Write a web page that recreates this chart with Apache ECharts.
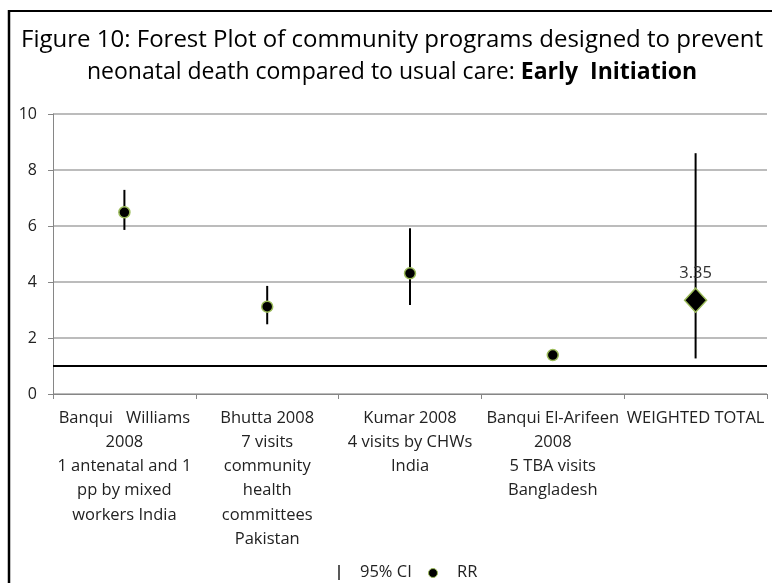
<!DOCTYPE html>
<html>
<head>
<meta charset="utf-8">
<script src="https://cdn.jsdelivr.net/npm/echarts@6/dist/echarts.min.js"></script>
<style>html,body{margin:0;padding:0;background:#fff;}#c{width:772px;height:583px;}</style>
</head>
<body>
<div id="c"></div>
<script>
var categories = [
  'Banqui   Williams\n2008\n1 antenatal and 1\npp by mixed\nworkers India',
  'Bhutta 2008\n7 visits\ncommunity\nhealth\ncommittees\nPakistan',
  'Kumar 2008\n4 visits by CHWs\nIndia',
  'Banqui El-Arifeen\n2008\n5 TBA visits\nBangladesh',
  'WEIGHTED TOTAL'
];
var rr = [6.49, 3.12, 4.31, 1.39, 3.35];
var ciLow = [5.86, 2.49, 3.18, 1.32, 1.27];
var ciHigh = [7.29, 3.86, 5.92, 1.46, 8.6];
var yTicks = [0, 2, 4, 6, 8, 10];
var refValue = 1;
var titleLine1 = 'Figure 10: Forest Plot of community programs designed to prevent';
var titleLine2a = 'neonatal death compared to usual care: ';
var titleLine2b = 'Early  Initiation';

var FONT = '"Open Sans"';
var chart = echarts.init(document.getElementById('c'), null, {renderer: 'canvas'});

var studyPts = [], totalPts = [], ciData = [];
for (var i = 0; i < categories.length; i++) {
  if (i === categories.length - 1) totalPts.push([i, rr[i]]); else studyPts.push([i, rr[i]]);
  ciData.push([i, ciLow[i], ciHigh[i]]);
}

var option = {
  animation: false,
  backgroundColor: '#fff',
  grid: {left: 53, right: 5, top: 114, bottom: 189, containLabel: false},
  xAxis: {
    type: 'category',
    data: categories,
    boundaryGap: true,
    axisLine: {lineStyle: {color: '#868686', width: 1}},
    axisTick: {show: true, length: 5, lineStyle: {color: '#868686'}},
    axisLabel: {interval: 0, color: '#222', fontFamily: FONT, fontSize: 16.5, lineHeight: 24.2, margin: 12}
  },
  yAxis: {
    type: 'value',
    min: yTicks[0], max: yTicks[yTicks.length - 1], interval: 2,
    axisLine: {show: true, lineStyle: {color: '#868686'}},
    axisTick: {show: true, length: 5, lineStyle: {color: '#868686'}},
    splitLine: {lineStyle: {color: '#a6a6a6', width: 1.5}},
    axisLabel: {color: '#222', fontFamily: FONT, fontSize: 16, margin: 16}
  },
  series: [
    {
      type: 'custom',
      name: '95% CI',
      data: ciData,
      z: 3,
      renderItem: function (params, api) {
        var a = api.coord([api.value(0), api.value(1)]);
        var b = api.coord([api.value(0), api.value(2)]);
        return {type: 'line', shape: {x1: a[0], y1: a[1], x2: b[0], y2: b[1]}, style: {stroke: '#000', lineWidth: 2}};
      },
      markLine: {
        silent: true, symbol: ['none', 'none'], label: {show: false},
        lineStyle: {color: '#000', width: 2, type: 'solid'},
        data: [{yAxis: refValue}]
      }
    },
    {
      type: 'scatter', name: 'RR', data: studyPts, z: 5,
      symbol: 'circle', symbolSize: 11,
      itemStyle: {color: '#000', borderColor: '#9bbb59', borderWidth: 1.5, opacity: 1}
    },
    {
      type: 'scatter', name: 'Weighted', data: totalPts, z: 5,
      symbol: 'diamond', symbolSize: [22, 24],
      itemStyle: {color: '#000', borderColor: '#9bbb59', borderWidth: 1.5, opacity: 1},
      label: {show: true, position: 'top', distance: 6, color: '#333', fontFamily: FONT, fontSize: 16.5,
        formatter: function (p) { return p.value[1].toFixed(2); }}
    }
  ],
  graphic: [
    {type: 'line', shape: {x1: 8, y1: 11, x2: 772, y2: 11}, style: {stroke: '#000', lineWidth: 2}},
    {type: 'line', shape: {x1: 9, y1: 10, x2: 9, y2: 583}, style: {stroke: '#000', lineWidth: 2.5}},
    {type: 'text', x: 392, y: 40, style: {text: titleLine1, font: '24px ' + FONT, fill: '#000', textAlign: 'center', textVerticalAlign: 'middle'}},
    {type: 'text', x: 392, y: 72, style: {
      text: '{n|' + titleLine2a + '}{b|' + titleLine2b + '}',
      textAlign: 'center', textVerticalAlign: 'middle',
      rich: {n: {font: '23px ' + FONT, fill: '#000'}, b: {font: 'bold 23px ' + FONT, fill: '#000'}}
    }},
    {type: 'line', shape: {x1: 339, y1: 565, x2: 339, y2: 580}, style: {stroke: '#222', lineWidth: 1.5}},
    {type: 'text', x: 360, y: 572, style: {text: '95% CI', font: '16.5px ' + FONT, fill: '#222', textVerticalAlign: 'middle'}},
    {type: 'circle', shape: {cx: 433, cy: 573, r: 4.5}, style: {fill: '#000', stroke: '#9bbb59', lineWidth: 1}},
    {type: 'text', x: 457, y: 572, style: {text: 'RR', font: '16.5px ' + FONT, fill: '#222', textVerticalAlign: 'middle'}}
  ]
};
chart.setOption(option);
</script>
</body>
</html>
